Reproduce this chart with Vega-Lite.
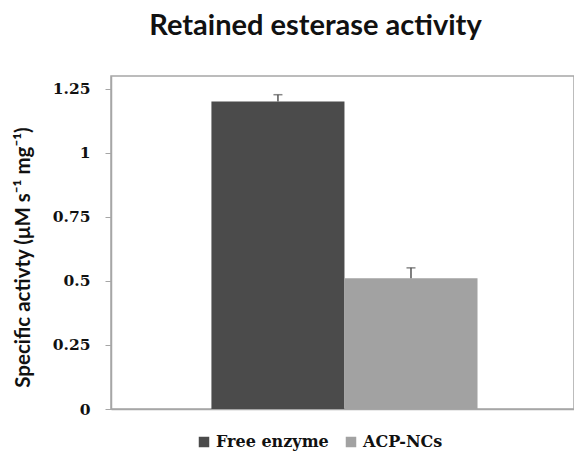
{
  "$schema": "https://vega.github.io/schema/vega-lite/v6.json",
  "width": 463,
  "height": 333,
  "autosize": {"type": "none"},
  "padding": {"left": 111, "top": 76, "right": 0, "bottom": 42},
  "background": "white",
  "config": {
    "view": {"stroke": "#a6a6a6", "strokeWidth": 1.5},
    "font": "Lato"
  },
  "title": {
    "text": "Retained esterase activity",
    "font": "Lato",
    "fontSize": 29,
    "fontWeight": "bold",
    "color": "#111111",
    "anchor": "middle",
    "dx": -27,
    "offset": 35
  },
  "data": {
    "values": [
      {"group": "Free enzyme", "value": 1.2, "upper": 1.227},
      {"group": "ACP-NCs", "value": 0.51, "upper": 0.551}
    ]
  },
  "layer": [
    {
      "mark": {"type": "bar"},
      "encoding": {
        "x": {
          "field": "group",
          "type": "nominal",
          "sort": ["Free enzyme", "ACP-NCs"],
          "scale": {"paddingInner": 0, "paddingOuter": 0.74, "align": 0.51},
          "axis": {
            "title": null,
            "labels": false,
            "ticks": false,
            "domainColor": "#a6a6a6",
            "domainWidth": 1.5
          }
        },
        "y": {
          "field": "value",
          "type": "quantitative",
          "scale": {"domain": [0, 1.25]},
          "axis": {
            "values": [0, 0.25, 0.5, 0.75, 1, 1.25],
            "labelExpr": "datum.value == 0 ? '0' : datum.value == 1 ? '1' : datum.label",
            "format": ".2~f",
            "title": "Specific activty (μM s⁻¹ mg⁻¹)",
            "titleFont": "Lato",
            "titleFontSize": 20.5,
            "titleFontWeight": "bold",
            "titleColor": "#111111",
            "titlePadding": 19,
            "titleY": 181,
            "labelFont": "DejaVu Serif",
            "labelFontSize": 15.5,
            "labelFontWeight": "bold",
            "labelColor": "#111111",
            "labelPadding": 15,
            "tickSize": 6,
            "tickColor": "#a6a6a6",
            "domainColor": "#a6a6a6",
            "domainWidth": 1.5,
            "grid": false
          }
        },
        "color": {
          "field": "group",
          "type": "nominal",
          "sort": ["Free enzyme", "ACP-NCs"],
          "scale": {"domain": ["Free enzyme", "ACP-NCs"], "range": ["#4b4b4b", "#a2a2a2"]},
          "legend": {
            "title": null,
            "orient": "none",
            "direction": "horizontal",
            "legendX": 85,
            "legendY": 358,
            "symbolType": "square",
            "symbolSize": 110,
            "symbolStrokeWidth": 0,
            "labelFont": "DejaVu Serif",
            "labelFontSize": 16,
            "labelFontWeight": "bold",
            "labelColor": "#111111",
            "columnPadding": 14,
            "labelOffset": 4
          }
        }
      }
    },
    {
      "mark": {"type": "rule", "color": "#555555", "strokeWidth": 1.5},
      "encoding": {
        "x": {"field": "group", "type": "nominal", "sort": ["Free enzyme", "ACP-NCs"]},
        "y": {"field": "value", "type": "quantitative"},
        "y2": {"field": "upper"}
      }
    },
    {
      "mark": {"type": "tick", "color": "#555555", "thickness": 1.5, "size": 9, "orient": "horizontal"},
      "encoding": {
        "x": {"field": "group", "type": "nominal", "sort": ["Free enzyme", "ACP-NCs"]},
        "y": {"field": "upper", "type": "quantitative"}
      }
    }
  ]
}
